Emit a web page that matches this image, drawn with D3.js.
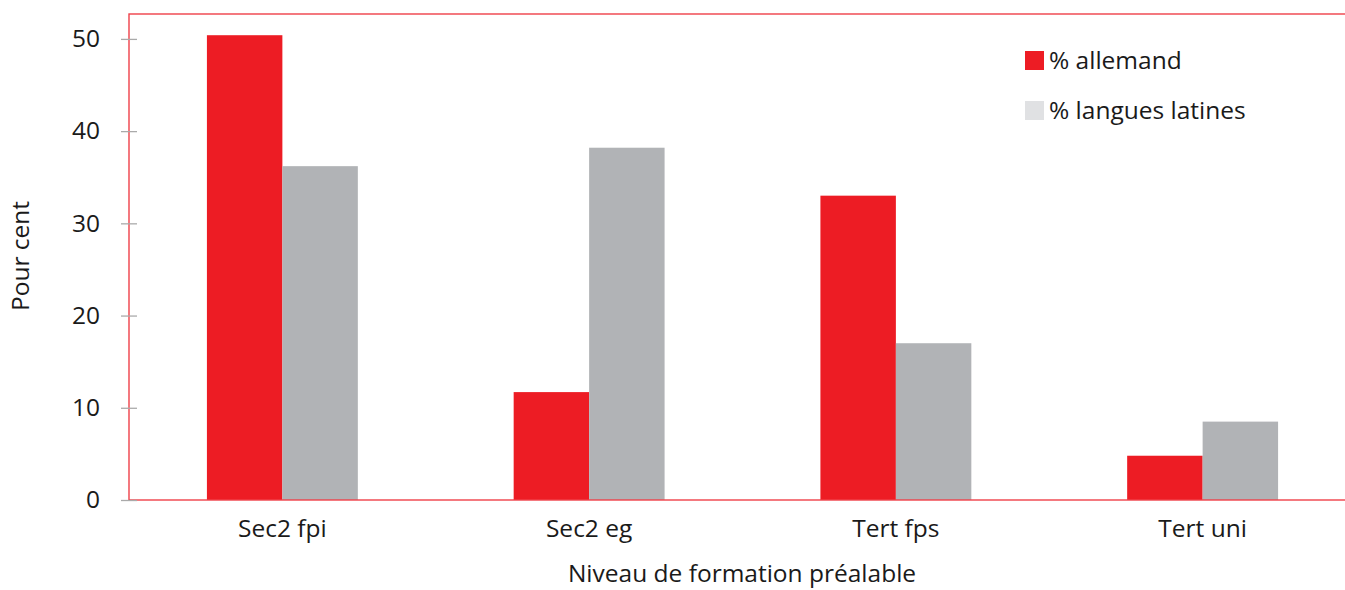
<!DOCTYPE html>
<html>
<head>
<meta charset="utf-8">
<script src="https://cdn.jsdelivr.net/npm/d3@7"></script>
<style>
  body { margin: 0; background: #fff; }
  svg text { font-family: "Open Sans", "Noto Sans", sans-serif; fill: #1a1a1a; }
</style>
</head>
<body>
<div id="chart"></div>
<script>
// Chart data
let categories = ["Sec2 fpi", "Sec2 eg", "Tert fps", "Tert uni"];
let allemand = [50.4, 11.7, 33.0, 4.8];
let latines = [36.2, 38.2, 17.0, 8.5];
let seriesNames = ["% allemand", "% langues latines"];
let yTicks = [0, 10, 20, 30, 40, 50];

let width = 1345, height = 590;
let margin = {left: 129, top: 14, bottom: 90};
let plotRight = 1356;  // frame runs off the right edge
let fontSize = "24.5px";

let svg = d3.select("#chart")
    .append("svg")
    .attr("width", width)
    .attr("height", height);

// Scales
let x = d3.scaleBand()
    .domain(categories)
    .range([margin.left, plotRight])
    .paddingInner(0.508)
    .paddingOuter(0.254);

let y = d3.scaleLinear()
    .domain([0, 52.7])
    .range([height - margin.bottom, margin.top]);

let barW = x.bandwidth() / 2;

// Bars
let rows = categories.map((c, i) => ({cat: c, a: allemand[i], l: latines[i]}));

svg.append("g").selectAll("rect")
    .data(rows)
    .enter()
    .append("rect")
    .attr("x", d => x(d.cat))
    .attr("y", d => y(d.a))
    .attr("width", barW)
    .attr("height", d => y(0) - y(d.a))
    .attr("fill", "#ed1c24");

svg.append("g").selectAll("rect")
    .data(rows)
    .enter()
    .append("rect")
    .attr("x", d => x(d.cat) + barW)
    .attr("y", d => y(d.l))
    .attr("width", barW)
    .attr("height", d => y(0) - y(d.l))
    .attr("fill", "#b1b3b6");

// Frame
svg.append("rect")
    .attr("x", margin.left)
    .attr("y", margin.top)
    .attr("width", plotRight - margin.left)
    .attr("height", y(0) - margin.top)
    .attr("fill", "none")
    .attr("stroke", "#ef4049")
    .attr("stroke-width", 1.4);

// Y axis ticks and labels
let yAxis = svg.append("g")
    .attr("transform", `translate(${margin.left}, 0)`)
    .call(d3.axisLeft(y).tickValues(yTicks).tickSize(0).tickPadding(29));
yAxis.select(".domain").remove();
yAxis.selectAll("text")
    .style("font-size", fontSize)
    .attr("fill", "#1a1a1a");
yAxis.selectAll(".tick").append("line")
    .attr("x1", -8)
    .attr("x2", 8)
    .attr("stroke", "#aaaaaa")
    .attr("stroke-width", 1.3);

// X axis labels
let xAxis = svg.append("g")
    .attr("transform", `translate(0, ${y(0)})`)
    .call(d3.axisBottom(x).tickSize(0).tickPadding(20));
xAxis.select(".domain").remove();
xAxis.selectAll("text")
    .style("font-size", fontSize)
    .attr("fill", "#1a1a1a");

// Axis titles
svg.append("text")
    .attr("x", 742)
    .attr("y", 582)
    .style("text-anchor", "middle")
    .style("font-size", fontSize)
    .text("Niveau de formation préalable");

svg.append("text")
    .attr("transform", "translate(29, 256) rotate(-90)")
    .style("text-anchor", "middle")
    .style("font-size", fontSize)
    .text("Pour cent");

// Legend
let legendColors = ["#ed1c24", "#e0e1e3"];
let legend = svg.append("g").selectAll("g")
    .data(seriesNames)
    .enter()
    .append("g")
    .attr("transform", (d, i) => `translate(1025, ${51 + i * 50})`);

legend.append("rect")
    .attr("width", 19)
    .attr("height", 19)
    .attr("fill", (d, i) => legendColors[i]);

legend.append("text")
    .attr("x", 24)
    .attr("y", 18)
    .style("font-size", fontSize)
    .text(d => d);
</script>
</body>
</html>
